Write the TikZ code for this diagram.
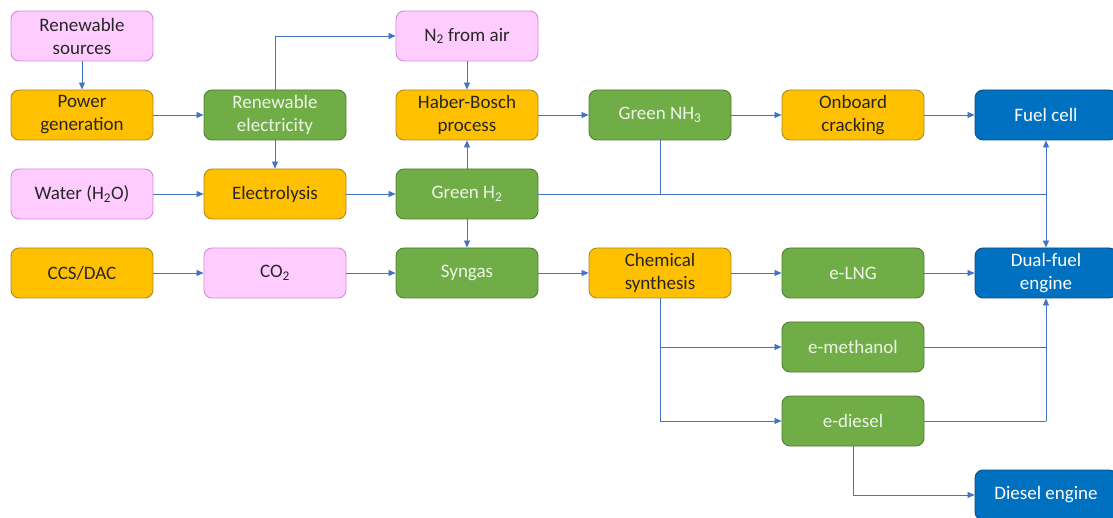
\documentclass[tikz,border=0pt]{standalone}
\usepackage{fontspec}
\setmainfont{Carlito}
\usetikzlibrary{arrows.meta}
\definecolor{pinkf}{HTML}{FFCCFF}
\definecolor{pinkd}{HTML}{D08CD8}
\definecolor{orf}{HTML}{FFC000}
\definecolor{ord}{HTML}{A88A2A}
\definecolor{grf}{HTML}{70AD47}
\definecolor{grd}{HTML}{4E7F33}
\definecolor{blf}{HTML}{0070C0}
\definecolor{bld}{HTML}{0A4F8A}
\definecolor{conn}{HTML}{4472C4}
\definecolor{grt}{HTML}{EEF5E8}
\begin{document}
\begin{tikzpicture}[x=1pt,y=-1pt,
  box/.style={rounded corners=8pt,minimum width=142pt,minimum height=50pt,align=center,
    font=\fontsize{19}{23}\selectfont,line width=0.9pt,inner sep=2pt},
  pinkbox/.style={box,fill=pinkf,draw=pinkd,text=black!85},
  orbox/.style={box,fill=orf,draw=ord,text=black!85},
  grbox/.style={box,fill=grf,draw=grd,text=grt},
  blbox/.style={box,fill=blf,draw=bld,text=white},
  con/.style={draw=conn,line width=0.8pt},
  arr/.style={con,-{Triangle[length=7pt,width=6pt]}}]
\useasboundingbox (0,0) rectangle (1113,518);
\node[pinkbox] (rs) at (82,36) {Renewable\\sources};
\node[orbox] (pg) at (82,115) {Power\\generation};
\node[pinkbox] (wa) at (82,194) {Water (H\textsubscript{2}O)};
\node[orbox] (cc) at (82,273) {CCS/DAC};
\node[grbox] (re) at (275,115) {Renewable\\electricity};
\node[orbox] (el) at (275,194) {Electrolysis};
\node[pinkbox] (co) at (275,273) {CO\textsubscript{2}};
\node[pinkbox] (n2) at (467,36) {N\textsubscript{2} from air};
\node[orbox] (hb) at (467,115) {Haber-Bosch\\process};
\node[grbox] (h2) at (467,194) {Green H\textsubscript{2}};
\node[grbox] (sy) at (467,273) {Syngas};
\node[grbox] (nh) at (660,115) {Green NH\textsubscript{3}};
\node[orbox] (cs) at (660,273) {Chemical\\synthesis};
\node[orbox] (oc) at (853,115) {Onboard\\cracking};
\node[grbox] (ln) at (853,273) {e-LNG};
\node[grbox] (em) at (853,347) {e-methanol};
\node[grbox] (ed) at (853,421) {e-diesel};
\node[blbox] (fc) at (1046,115) {Fuel cell};
\node[blbox] (df) at (1046,273) {Dual-fuel\\engine};
\node[blbox] (de) at (1046,495) {Diesel engine};
% connectors
\draw[arr] (rs) -- (pg);
\draw[arr] (pg) -- (re);
\draw[arr] (re.north) |- (n2.west);
\draw[arr] (re) -- (el);
\draw[arr] (wa) -- (el);
\draw[arr] (el) -- (h2);
\draw[arr] (n2) -- (hb);
\draw[arr] (h2) -- (hb);
\draw[arr] (hb) -- (nh);
\draw[arr] (nh) -- (oc);
\draw[arr] (oc) -- (fc);
\coordinate (j1) at (fc.south |- h2.east);
\draw[con] (nh.south) -- (nh.south |- h2.east);
\draw[con] (h2.east) -- (j1);
\draw[arr] (j1) -- (fc.south);
\draw[arr] (j1) -- (df.north);
\draw[arr] (h2) -- (sy);
\draw[arr] (cc) -- (co);
\draw[arr] (co) -- (sy);
\draw[arr] (sy) -- (cs);
\draw[arr] (cs) -- (ln);
\draw[arr] (ln) -- (df);
\draw[con] (cs.south) -- (cs.south |- ed.west);
\draw[arr] (cs.south |- em.west) -- (em.west);
\draw[arr] (cs.south |- ed.west) -- (ed.west);
\coordinate (j2) at (df.south |- ed.east);
\draw[con] (ed.east) -- (j2);
\draw[con] (em.east) -- (df.south |- em.east);
\draw[arr] (j2) -- (df.south);
\draw[arr] (ed.south) |- (de.west);
\end{tikzpicture}
\end{document}
